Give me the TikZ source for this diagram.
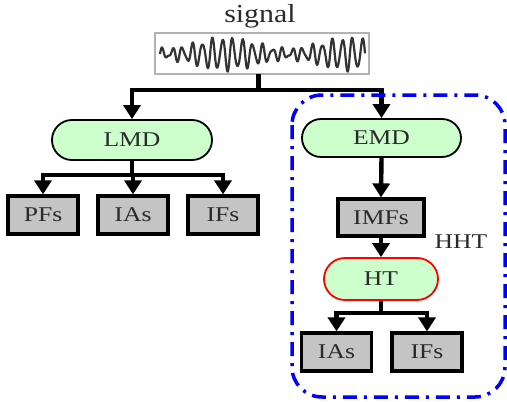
\documentclass[tikz,border=0pt]{standalone}
\usepackage{fontspec}
\usepackage{graphicx}
\setmainfont{Liberation Serif}
\usetikzlibrary{shapes.misc,arrows.meta}
\definecolor{pillgreen}{HTML}{CCFFCC}
\definecolor{boxgray}{HTML}{C4C4C4}
\definecolor{txt}{HTML}{2A2A2A}
\newcommand{\sx}[1]{\scalebox{1.22}[1]{#1}}
\begin{document}
\begin{tikzpicture}[x=1pt,y=-1pt,
  conn/.style={line width=4.4pt,-{Triangle[length=14pt,width=17pt]}},
  plain/.style={line width=4.4pt},
  pill/.style={rounded rectangle,draw=black,line width=1.8pt,fill=pillgreen,
    text=txt,font=\fontsize{21}{23}\selectfont,inner sep=0pt},
  outbox/.style={rectangle,draw=black,line width=3.2pt,fill=boxgray,
    text=txt,font=\fontsize{21}{23}\selectfont,inner sep=0pt,
    minimum width=70pt,minimum height=38pt}
]
\useasboundingbox (0,0) rectangle (507,402);
% signal
\node[text=txt,font=\fontsize{26}{28}\selectfont] (siglabel) at (260,16) {\scalebox{1.15}[1]{signal}};
\node[draw=black!30,line width=1.4pt,minimum width=214pt,minimum height=41pt,inner sep=0pt] (sig) at (262,53.5) {};
\draw[line width=2.2pt,black!80,line join=round]
  plot[smooth,samples=300,domain=0:205]
  ({\x+160},{54-(10+5.5*sin(2.9*\x-101))*sin(36*\x)-2.5*sin(57*\x)});
% split
\coordinate (s1) at (258,90);
\draw[line width=5pt] (258,74) -- (s1);
\node[pill,minimum width=160pt,minimum height=40pt] (lmd) at (132,140) {\sx{LMD}};
\node[pill,minimum width=159pt,minimum height=38pt] (emd) at (381.5,138) {\sx{EMD}};
\draw[conn] (s1) -| (lmd.north);
\draw[conn] (s1) -| (emd.north);
% left branch
\node[outbox] (pfs) at (43,215) {\sx{PFs}};
\node[outbox] (ias1) at (133,215) {\sx{IAs}};
\node[outbox] (ifs1) at (223,215) {\sx{IFs}};
\coordinate (s2) at (132,175);
\draw[plain] (lmd.south) -- (s2);
\draw[conn] (s2) -| (pfs.north);
\draw[conn] (s2) -| (ias1.north);
\draw[conn] (s2) -| (ifs1.north);
% right branch
\node[outbox,minimum width=86pt,minimum height=37pt] (imfs) at (381,217.5) {\sx{IMFs}};
\node[pill,draw=red,minimum width=114pt,minimum height=42pt] (ht) at (381,279) {\sx{HT}};
\draw[conn] (emd.south) -- (imfs.north);
\draw[conn] (imfs.south) -- (ht.north);
\node[outbox] (ias2) at (336.5,352) {\sx{IAs}};
\node[outbox] (ifs2) at (427,352) {\sx{IFs}};
\coordinate (s3) at (381,313);
\draw[plain] (ht.south) -- (s3);
\draw[conn] (s3) -| (ias2.north);
\draw[conn] (s3) -| (ifs2.north);
\node[text=txt,font=\fontsize{21}{23}\selectfont] (hht) at (461,242) {\sx{HHT}};
% HHT frame
\draw[blue,line width=3.5pt,rounded corners=30pt,dash pattern=on 14pt off 7pt on 3pt off 7pt]
  (292,95) rectangle (505,397);
\end{tikzpicture}
\end{document}
